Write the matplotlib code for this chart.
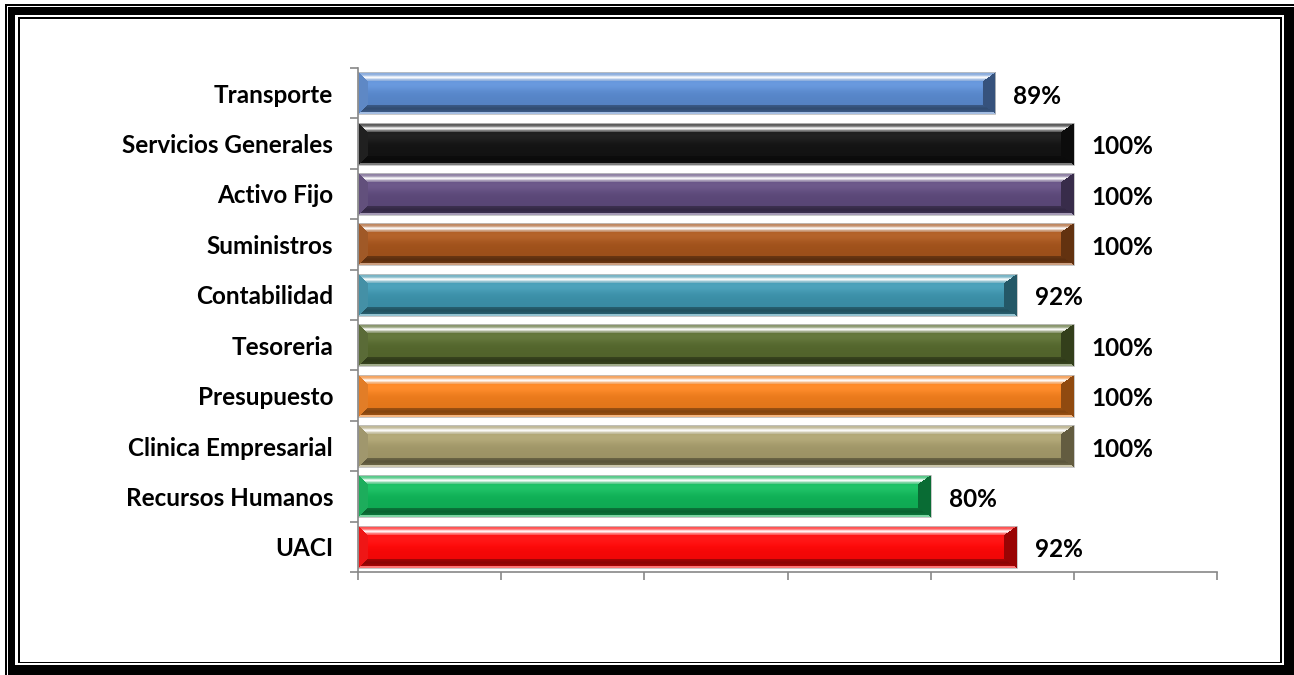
import numpy as np
import matplotlib
matplotlib.use("Agg")
import matplotlib.pyplot as plt
from matplotlib.patches import Rectangle
from matplotlib.colors import to_rgb

categories = ["Transporte", "Servicios Generales", "Activo Fijo", "Suministros",
              "Contabilidad", "Tesoreria", "Presupuesto", "Clinica Empresarial",
              "Recursos Humanos", "UACI"]
values = [89, 100, 100, 100, 92, 100, 100, 100, 80, 92]
colors = ["#5A8ACF", "#141414", "#5E4A7C", "#A5541C", "#3D93AC",
          "#56692E", "#F07D1C", "#A59B6B", "#10B458", "#FF0808"]
xticks = [0, 0.2, 0.4, 0.6, 0.8, 1.0, 1.2]

W, H, DPI = 1294, 675, 100
FONT = "Lato"
FS = 17.5
fig = plt.figure(figsize=(W / DPI, H / DPI), dpi=DPI)
fig.patch.set_facecolor("white")


def rect(x0, y0, x1, y1, color):
    fig.patches.append(Rectangle((x0 / W, 1 - y1 / H), (x1 - x0) / W, (y1 - y0) / H,
                                 transform=fig.transFigure, facecolor=color,
                                 edgecolor="none", zorder=-10))

# double frame
rect(5, 4, W, H, "black")
rect(7, 6, W, H, "white")
rect(8, 7, W, H, "black")
rect(15, 15, 1284, 665, "white")
rect(18, 17, 1282, 663, "black")
rect(20, 19, 1280, 662, "white")

ax_l, ax_r, ax_t, ax_b = 358, 1217, 68, 572
ax = fig.add_axes([ax_l / W, 1 - ax_b / H, (ax_r - ax_l) / W, (ax_b - ax_t) / H])
ax.set_facecolor("none")

n = len(categories)
ypos = np.arange(n)[::-1]
fracs = [v / 100 for v in values]
bar_h = 0.83
bars = ax.barh(ypos, fracs, height=bar_h, color=colors, edgecolor="none", zorder=2)

ax.set_xlim(0, 1.2)
ax.set_ylim(-0.5, n - 0.5)

ppx = (ax_r - ax_l) / 1.2
ppy = (ax_b - ax_t) / n


def shade(base, w_px, h_px):
    base = np.array(to_rgb(base))
    C = max(int(round(w_px)), 2)
    R = max(int(round(h_px)), 2)
    r = np.arange(R)[:, None] + 0.5
    c = np.arange(C)[None, :] + 0.5
    dt = r / 9.0 * np.ones_like(c)
    db = (R - r) / 9.0 * np.ones_like(c)
    dl = c / 10.0 * np.ones_like(r)
    dr = (C - c) / 13.0 * np.ones_like(r)
    stack = np.stack([dt, db, dl, dr])
    face = np.argmin(stack, axis=0)
    m = np.min(stack, axis=0)
    inner = m >= 1.0
    img = np.zeros((R, C, 3))
    white = np.ones(3)
    black = np.zeros(3)
    t = np.clip(m, 0, 1)[..., None]
    # top face: light with a bright stripe
    top_mix = (0.3 + 0.65 * np.exp(-((t - 0.6) / 0.2) ** 2))
    top = base * (1 - top_mix) + white * top_mix
    # bottom face: darker, light line at very edge
    bot_dark = 0.35 * (t > 0.2)
    bot_light = 0.45 * (t <= 0.2)
    bot = base * (1 - bot_dark - bot_light) + black * bot_dark + white * bot_light
    bot = bot * (1 - 0.15 * np.exp(-((t - 0.6) / 0.25) ** 2))
    left = base * 0.88 + white * 0.06
    left = np.broadcast_to(left, (R, C, 3))
    right = base * 0.6
    right = np.broadcast_to(right, (R, C, 3))
    v = (r / R) * np.ones_like(c)
    mid = base[None, None, :] * (1.0 - 0.12 * (v[..., None] - 0.3))
    mid = np.clip(mid + 0.06 * np.exp(-((v[..., None] - 0.3) / 0.15) ** 2), 0, 1)
    img[:] = mid
    sel = ~inner
    for k, arr in enumerate([top, bot, left, right]):
        mask = sel & (face == k)
        img[mask] = np.broadcast_to(arr, (R, C, 3))[mask]
    return np.clip(img, 0, 1)


for b, col in zip(bars, colors):
    x0, y0 = b.get_x(), b.get_y()
    w, h = b.get_width(), b.get_height()
    img = shade(col, w * ppx, h * ppy)
    ax.imshow(img, extent=(x0, x0 + w, y0, y0 + h), origin="upper",
              aspect="auto", interpolation="bilinear", zorder=3)
    b.set_edgecolor("#BFBFBF")
    b.set_linewidth(0.6)
    b.set_facecolor("none")
    b.set_zorder(4)

ax.set_xlim(0, 1.2)
ax.set_ylim(-0.5, n - 0.5)

for y, f, v in zip(ypos, fracs, values):
    ax.text(f + 18 / ppx, y - 0.06, f"{v}%", ha="left", va="center",
            fontsize=FS, fontweight="bold", family=FONT, color="black", zorder=5)

for s in ["top", "right"]:
    ax.spines[s].set_visible(False)
for s in ["left", "bottom"]:
    ax.spines[s].set_color("#878787")
    ax.spines[s].set_linewidth(1.2)
    ax.spines[s].set_zorder(6)

ax.set_xticks(xticks)
ax.set_xticklabels([])
ax.tick_params(axis="x", direction="out", length=6, width=1.2, color="#878787")
ax.set_yticks(np.arange(-0.5, n, 1.0))
ax.set_yticklabels([])
ax.tick_params(axis="y", which="major", direction="out", length=6, width=1.2, color="#878787")
ax.set_yticks(ypos, minor=True)
ax.set_yticklabels(categories, minor=True, fontsize=FS, fontweight="bold", family=FONT)
ax.tick_params(axis="y", which="minor", length=0, pad=18)

fig.savefig("out.png", dpi=DPI)
